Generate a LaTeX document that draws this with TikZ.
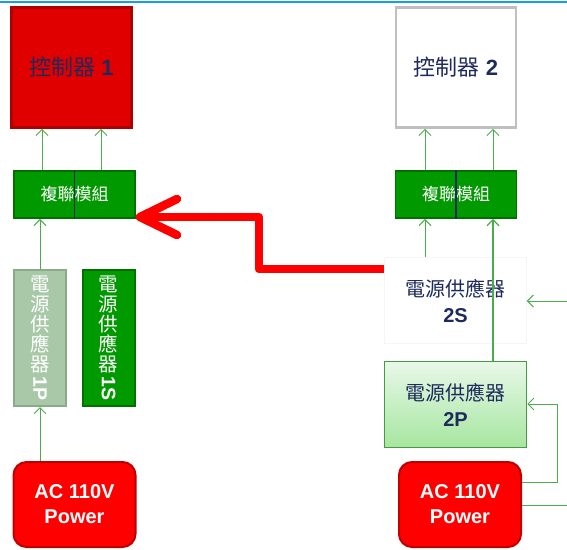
\documentclass[tikz,border=0pt]{standalone}
\usepackage{fontspec}
\setmainfont{Liberation Sans}
\newfontfamily\cjk{Noto Sans CJK TC}
\usepackage{graphicx}
\usetikzlibrary{arrows.meta,positioning,calc}
\definecolor{navytxt}{RGB}{30,42,92}
\definecolor{ctrlred}{RGB}{224,0,0}
\definecolor{ctrledge}{RGB}{175,0,0}
\definecolor{muxgreen}{RGB}{0,153,0}
\definecolor{muxedge}{RGB}{0,112,0}
\definecolor{feedgreen}{RGB}{76,172,76}
\definecolor{pgray}{RGB}{168,200,168}
\definecolor{pgrayedge}{RGB}{138,170,138}
\definecolor{psutop}{RGB}{232,248,232}
\definecolor{psubot}{RGB}{166,230,160}
\definecolor{acred}{RGB}{255,0,0}
\definecolor{acedge}{RGB}{192,0,0}
\definecolor{topblue}{RGB}{22,160,220}
\tikzset{
  ctrlbox/.style={draw, line width=2.6pt, minimum width=120pt, minimum height=120pt,
    inner sep=0pt, text=navytxt, font=\fontsize{22}{26}\selectfont},
  muxbox/.style={draw=muxedge, fill=muxgreen, line width=1.8pt, minimum width=121pt,
    minimum height=47pt, inner sep=0pt, text=white, font=\fontsize{17}{20}\selectfont\cjk},
  vbox/.style={line width=2pt, minimum width=52pt, minimum height=136pt, inner sep=0pt,
    align=center, text=white, font=\fontsize{19.5}{20}\selectfont\cjk},
  psubox/.style={minimum width=142pt, minimum height=86pt, inner sep=0pt, align=center,
    text=navytxt, font=\fontsize{20}{26}\selectfont\cjk},
  acbox/.style={draw=acedge, fill=acred, line width=2pt, rounded corners=13pt,
    minimum width=122pt, minimum height=85pt, inner sep=0pt, align=center, text=white,
    font=\fontsize{20}{25}\selectfont\bfseries},
  feedln/.style={-{Straight Barb[length=6pt,width=12pt]}, line width=1pt, feedgreen},
  failln/.style={line width=8.5pt, red, line join=round},
}
\newcommand{\divline}[1]{%
  \draw[navytxt, line width=1.5pt] (#1.north) -- (#1.south);
}
\newcommand{\vlabel}[1]{%
  電\\源\\供\\應\\器\\[3pt]\rotatebox[origin=c]{-90}{\rmfamily\bfseries #1}%
}

\begin{document}
\begin{tikzpicture}[x=1pt,y=-1pt]
  \useasboundingbox (0,0) rectangle (567,549);
  % top rule
  \draw[topblue, line width=2pt] (0,2) -- (567,2);
  % Controllers
  \node[ctrlbox, draw=ctrledge, fill=ctrlred] (ctrl1) at (71.5,67.5)
    {{\cjk 控制器} \textbf{1}};
  \node[ctrlbox, draw=gray!50, fill=white] (ctrl2) at (456,67.5)
    {{\cjk 控制器} \textbf{2}};
  % Multiplex modules
  \node[muxbox] (mux1) at (74.5,194.5) {複聯模組};
  \node[muxbox] (mux2) at (456,194.5) {複聯模組};
  \divline{mux1}
  \divline{mux2}
  % Power supplies, side 1
  \node[vbox, draw=pgrayedge, fill=pgray] (psu1p) at (40,338) {\vlabel{1P}};
  \node[vbox, draw=muxedge, fill=muxgreen] (psu1s) at (108.5,338) {\vlabel{1S}};
  % Power supplies, side 2
  \node[psubox, draw=gray!8, fill=white] (psu2s) at (455.5,300.5)
    {電源供應器\\{\rmfamily\bfseries 2S}};
  \node[psubox, draw=feedgreen!90!black, line width=1.5pt, top color=psutop,
    bottom color=psubot] (psu2p) at (455.5,404.5)
    {電源供應器\\{\rmfamily\bfseries 2P}};
  % AC inputs
  \node[acbox] (ac1) at (74.5,504.5) {AC 110V\\Power};
  \node[acbox] (ac2) at (460,504.5) {AC 110V\\Power};
  % Feeds, side 1
  \draw[feedln] ([xshift=-32.5pt]mux1.north) -- ([xshift=-32.5pt]mux1.north |- ctrl1.south);
  \draw[feedln] ([xshift=26.5pt]mux1.north) -- ([xshift=26.5pt]mux1.north |- ctrl1.south);
  \draw[feedln] (psu1p.north) -- (psu1p.north |- mux1.south);
  \draw[feedln] (psu1p.south |- ac1.north) -- (psu1p.south);
  % Feeds, side 2
  \draw[feedln] ([xshift=-31pt]mux2.north) -- ([xshift=-31pt]mux2.north |- ctrl2.south);
  \draw[feedln] ([xshift=37pt]mux2.north) -- ([xshift=37pt]mux2.north |- ctrl2.south);
  \draw[feedln] (425,0 |- psu2s.north) -- (425,0 |- mux2.south);
  \draw[feedln, line width=1.2pt] (493,0 |- psu2p.north) -- (493,0 |- mux2.south);
  \coordinate (eastin) at (567,301);
  \coordinate (eastout) at (567,505);
  \draw[feedln] (eastin) -- (eastin -| psu2s.east);
  \draw[feedln] (ac2.east |- 0,482) -- (557,482) -- (557,404) -- (psu2p.east |- 0,404);
  \draw[feedln, -] (ac2.east |- eastout) -- (eastout);
  % Failover path
  \coordinate (failtip) at (140,217);
  \draw[failln] (psu2s.west |- 0,269) -- (259,269) -- (259,217) -- (failtip);
  \draw[failln, line cap=round] ($(failtip)+(37,-18)$) -- (failtip) -- ($(failtip)+(37,18)$);
\end{tikzpicture}
\end{document}
